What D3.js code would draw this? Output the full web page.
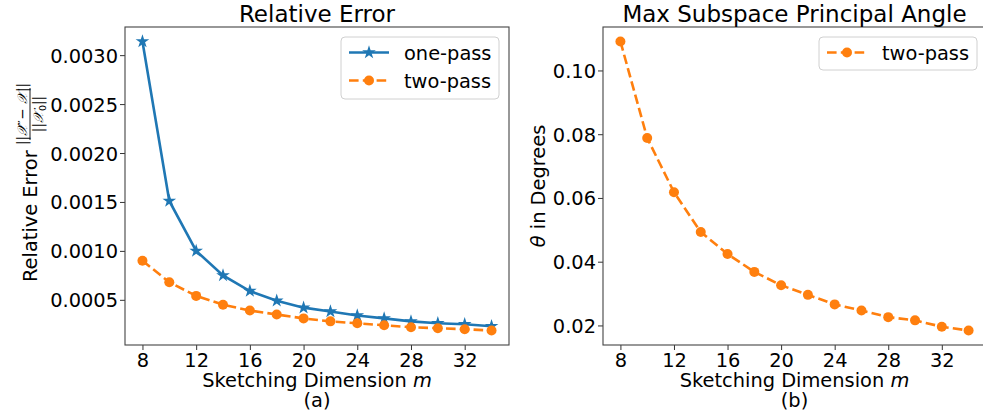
<!DOCTYPE html>
<html>
<head>
<meta charset="utf-8">
<script src="https://cdn.jsdelivr.net/npm/d3@7"></script>
<style>
  body { margin: 0; background: #fff; }
  svg { font-family: "DejaVu Sans", sans-serif; }
  .tick text { font-size: 19.4px; fill: #000; font-family: "DejaVu Sans", sans-serif; }
  .tick line { stroke: #333; }
</style>
</head>
<body>
<div id="chart"></div>
<script>
// Chart data
var dims = [8, 10, 12, 14, 16, 18, 20, 22, 24, 26, 28, 30, 32, 34];
var onePassErr = [0.00314, 0.00151, 0.00100, 0.00075, 0.00059, 0.00049, 0.00042, 0.00038, 0.00034, 0.00031, 0.00028, 0.00026, 0.00025, 0.00023];
var twoPassErr = [0.00090, 0.00068, 0.00054, 0.00045, 0.00039, 0.00035, 0.00031, 0.00028, 0.00026, 0.00024, 0.00022, 0.00021, 0.00020, 0.000186];
var twoPassAngle = [0.1091, 0.0788, 0.0618, 0.0493, 0.0424, 0.0368, 0.0326, 0.0296, 0.0266, 0.0247, 0.0226, 0.0216, 0.0196, 0.0184];

var xTicks = [8, 12, 16, 20, 24, 28, 32];
var errTicks = [0.0005, 0.0010, 0.0015, 0.0020, 0.0025, 0.0030];
var angleTicks = [0.02, 0.04, 0.06, 0.08, 0.10];

var blue = "#1f77b4";
var orange = "#ff7f0e";

var svgWidth = 983;
var svgHeight = 419;

var svg = d3.select("#chart")
  .append("svg")
  .attr("width", svgWidth)
  .attr("height", svgHeight);

// panel boxes (pixels)
var plotTop = 27, plotBottom = 345;
var panelA = { left: 125, right: 509 };
var panelB = { left: 603, right: 986 };

// matplotlib style 5% margins
function padded(ext) {
  var p = (ext[1] - ext[0]) * 0.05;
  return [ext[0] - p, ext[1] + p];
}

function drawPanel(panel, yDomain, yTickVals, yFormat) {
  var x = d3.scaleLinear()
    .domain(padded(d3.extent(dims)))
    .range([panel.left, panel.right]);
  var y = d3.scaleLinear()
    .domain(yDomain)
    .range([plotBottom, plotTop]);

  var g = svg.append("g");

  g.append("g")
    .attr("transform", `translate(0, ${plotBottom})`)
    .call(d3.axisBottom(x).tickValues(xTicks).tickSize(5).tickPadding(3).tickFormat(d3.format("d")))
    .call(a => a.select(".domain").remove());

  g.append("g")
    .attr("transform", `translate(${panel.left}, 0)`)
    .call(d3.axisLeft(y).tickValues(yTickVals).tickSize(5).tickPadding(2).tickFormat(d3.format(yFormat)))
    .call(a => a.select(".domain").remove())
    .selectAll("text").attr("dy", "0.36em");

  // spines
  g.append("rect")
    .attr("x", panel.left)
    .attr("y", plotTop)
    .attr("width", panel.right - panel.left)
    .attr("height", plotBottom - plotTop)
    .attr("fill", "none")
    .attr("stroke", "#444")
    .attr("stroke-width", 1.1);

  return { x: x, y: y, g: g };
}

function addLine(p, values, color, dashed) {
  var line = d3.line()
    .x((d, i) => p.x(dims[i]))
    .y(d => p.y(d));
  p.g.append("path")
    .datum(values)
    .attr("d", line)
    .attr("fill", "none")
    .attr("stroke", color)
    .attr("stroke-width", 2.6)
    .attr("stroke-dasharray", dashed ? "9.6,4.2" : null);
}

function addStars(p, values) {
  p.g.selectAll(null)
    .data(values)
    .enter()
    .append("path")
    .attr("d", d3.symbol().type(d3.symbolStar).size(58))
    .attr("transform", (d, i) => `translate(${p.x(dims[i])}, ${p.y(d)})`)
    .attr("fill", blue);
}

function addDots(p, values) {
  p.g.selectAll(null)
    .data(values)
    .enter()
    .append("circle")
    .attr("cx", (d, i) => p.x(dims[i]))
    .attr("cy", d => p.y(d))
    .attr("r", 5)
    .attr("fill", orange);
}

// Panel (a)
var errDomain = padded(d3.extent(onePassErr.concat(twoPassErr)));
var pa = drawPanel(panelA, errDomain, errTicks, ".4f");
addLine(pa, onePassErr, blue, false);
addStars(pa, onePassErr);
addLine(pa, twoPassErr, orange, true);
addDots(pa, twoPassErr);

// Panel (b)
var angleDomain = padded(d3.extent(twoPassAngle));
var pb = drawPanel(panelB, angleDomain, angleTicks, ".2f");
addLine(pb, twoPassAngle, orange, true);
addDots(pb, twoPassAngle);

// Titles
svg.append("text")
  .attr("x", (panelA.left + panelA.right) / 2)
  .attr("y", 22)
  .attr("text-anchor", "middle")
  .attr("font-size", "23px")
  .text("Relative Error");

svg.append("text")
  .attr("x", (panelB.left + panelB.right) / 2)
  .attr("y", 22)
  .attr("text-anchor", "middle")
  .attr("font-size", "23px")
  .text("Max Subspace Principal Angle");

// X labels
[panelA, panelB].forEach(function(panel, i) {
  var cx = (panel.left + panel.right) / 2;
  var t = svg.append("text")
    .attr("x", cx)
    .attr("y", 387)
    .attr("text-anchor", "middle")
    .attr("font-size", "19.4px");
  t.append("tspan").text("Sketching Dimension ");
  t.append("tspan").attr("font-style", "italic").text("m");
  svg.append("text")
    .attr("x", cx)
    .attr("y", 407)
    .attr("text-anchor", "middle")
    .attr("font-size", "19.4px")
    .text(i === 0 ? "(a)" : "(b)");
});

// Y label (a) with fraction
var ylab = svg.append("g")
  .attr("transform", "translate(37, 186) rotate(-90)");

ylab.append("text")
  .attr("x", -96)
  .attr("y", 0)
  .attr("font-size", "19.4px")
  .text("Relative Error");

var fracX = 72;
ylab.append("line")
  .attr("x1", fracX - 26)
  .attr("x2", fracX + 26)
  .attr("y1", -7)
  .attr("y2", -7)
  .attr("stroke", "#000")
  .attr("stroke-width", 0.9);

var num = ylab.append("text")
  .attr("x", fracX)
  .attr("y", -10)
  .attr("text-anchor", "middle")
  .attr("font-size", "13.5px");
num.append("tspan").text("||");
num.append("tspan").attr("font-family", "DejaVu Serif").attr("font-style", "italic").text("\u{1D4B3}\u0302");
num.append("tspan").text(" \u2212 ");
num.append("tspan").attr("font-family", "DejaVu Serif").attr("font-style", "italic").text("\u{1D4B3}");
num.append("tspan").text("||");

var den = ylab.append("text")
  .attr("x", fracX)
  .attr("y", 6)
  .attr("text-anchor", "middle")
  .attr("font-size", "13.5px");
den.append("tspan").text("||");
den.append("tspan").attr("font-family", "DejaVu Serif").attr("font-style", "italic").text("\u{1D4B3}");
den.append("tspan").attr("font-size", "9.5px").attr("dy", 2.5).text("0");
den.append("tspan").attr("dy", -2.5).text("||");

// Y label (b)
var ylabB = svg.append("text")
  .attr("transform", "translate(545, 186) rotate(-90)")
  .attr("text-anchor", "middle")
  .attr("font-size", "19.4px");
ylabB.append("tspan").attr("font-style", "italic").text("\u03B8");
ylabB.append("tspan").text(" in Degrees");

// Legends
function legend(box, rows) {
  var g = svg.append("g");
  g.append("rect")
    .attr("x", box.x)
    .attr("y", box.y)
    .attr("width", box.w)
    .attr("height", box.h)
    .attr("rx", 4)
    .attr("fill", "#fff")
    .attr("fill-opacity", 0.8)
    .attr("stroke", "#d0d0d0")
    .attr("stroke-width", 1);

  rows.forEach(function(r, i) {
    var cy = box.y + 15.5 + i * 28;
    var x0 = box.x + 8, x1 = box.x + 48;
    g.append("line")
      .attr("x1", x0).attr("x2", x1)
      .attr("y1", cy).attr("y2", cy)
      .attr("stroke", r.color)
      .attr("stroke-width", 2.6)
      .attr("stroke-dasharray", r.dashed ? "9.6,4.2" : null);
    if (r.marker === "star") {
      g.append("path")
        .attr("d", d3.symbol().type(d3.symbolStar).size(58))
        .attr("transform", `translate(${(x0 + x1) / 2}, ${cy})`)
        .attr("fill", r.color);
    } else {
      g.append("circle")
        .attr("cx", (x0 + x1) / 2)
        .attr("cy", cy)
        .attr("r", 5)
        .attr("fill", r.color);
    }
    g.append("text")
      .attr("x", box.x + 63)
      .attr("y", cy + 7)
      .attr("font-size", "19.4px")
      .text(r.label);
  });
}

legend({ x: 341, y: 37, w: 158, h: 62 }, [
  { label: "one-pass", color: blue, marker: "star", dashed: false },
  { label: "two-pass", color: orange, marker: "dot", dashed: true }
]);

legend({ x: 819, y: 37, w: 158, h: 33 }, [
  { label: "two-pass", color: orange, marker: "dot", dashed: true }
]);
</script>
</body>
</html>
